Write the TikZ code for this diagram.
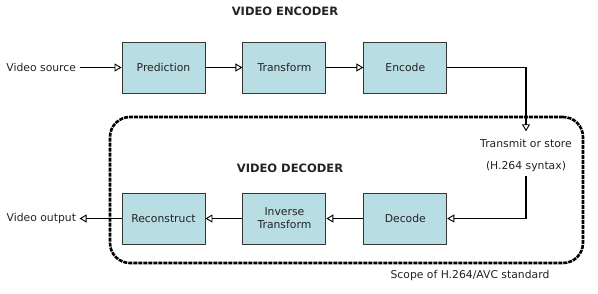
\documentclass[tikz,border=0pt]{standalone}
\usepackage{fontspec}
\setmainfont{DejaVu Sans}
\usetikzlibrary{arrows.meta,positioning}
\definecolor{boxfill}{RGB}{184,221,226}
\definecolor{boxline}{RGB}{55,55,55}
\definecolor{textgray}{RGB}{35,35,35}

\begin{document}
\begin{tikzpicture}[
    x=1pt, y=1pt,
    node distance=37pt,
    font=\fontsize{10.8}{12.8}\selectfont, text=textgray,
    box/.style={draw=boxline, line width=0.9pt, fill=boxfill, align=center, minimum width=83pt, minimum height=51pt, inner sep=2pt},
    arrow/.style={-{Triangle[open, length=7pt, width=8pt, line width=0.9pt]}, line width=1.4pt},
    title/.style={font=\fontsize{11.5}{13}\selectfont\bfseries},
    frame/.style={draw, line width=2.6pt, dash pattern=on 4pt off 1pt, rounded corners=20pt, minimum width=473pt, minimum height=146pt}
]
\useasboundingbox (0,0) rectangle (598,-293);
\node[frame] (scope) at (346.5,-190) {};
\node[title] (enctitle) at (285,-11) {VIDEO ENCODER};
\node[title] (dectitle) at (290,-168) {VIDEO DECODER};
\node[box] (predict) at (163.5,-67.5) {Prediction};
\node[box, right=of predict] (transform) {Transform};
\node[box, right=of transform] (encode) {Encode};
\node[box] (reconstruct) at (163.5,-218.5) {Reconstruct};
\node[box, right=of reconstruct] (invtrans) {Inverse\\Transform};
\node[box, right=of invtrans] (decode) {Decode};
\node[left=42pt of predict] (source) {Video source};
\node[left=42pt of reconstruct] (output) {Video output};
\node (store) at (526,-143) {Transmit or store};
\node (syntax) at (526,-167) {(H.264 syntax)};
\node (scopelabel) at (470,-276) {Scope of H.264/AVC standard};
\draw[arrow] (source) -- (predict);
\draw[arrow] (predict) -- (transform);
\draw[arrow] (transform) -- (encode);
\draw[arrow, shorten >=4pt] (encode.east) -| (store.north);
\draw[arrow] (syntax.south) |- (decode.east);
\draw[arrow] (decode) -- (invtrans);
\draw[arrow] (invtrans) -- (reconstruct);
\draw[arrow] (reconstruct) -- (output);
\end{tikzpicture}
\end{document}
